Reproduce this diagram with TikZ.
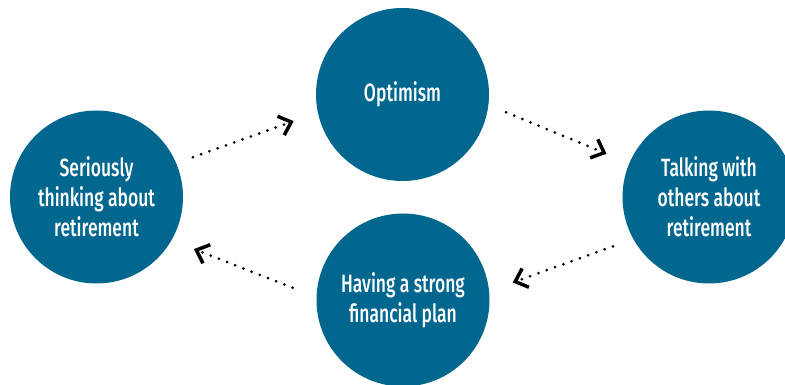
\documentclass[tikz,border=0pt]{standalone}
\usepackage{fontspec}
\setmainfont{Fira Sans}[FakeStretch=0.7,UprightFont=* Medium]
\usepackage{tikz}
\usetikzlibrary{arrows.meta,positioning,calc}
\definecolor{petrol}{HTML}{02678F}

\begin{document}
\begin{tikzpicture}[x=1pt,y=1pt,
  stage/.style={circle,fill=petrol,text=white,minimum size=173pt,inner sep=0pt,
    align=center,font=\fontsize{25}{30}\selectfont},
  flow/.style={line width=3pt,line cap=round,dash pattern=on 0pt off 8.8pt,
    -{Straight Barb[length=11pt,width=20pt,line width=3.5pt]}}]
\useasboundingbox (0,0) rectangle (785,385);
\node[stage] (serious) at (96.5,188) {Seriously\\thinking about\\retirement};
\node[stage] (opt) at (402.5,290.5) {Optimism};
\node[stage] (talk) at (709,188) {Talking with\\others about\\retirement};
\node[stage] (plan) at (403,85) {Having a strong\\financial plan};
\draw[flow,shorten <=17.5pt,shorten >=25.5pt] (serious.23) -- (opt.192);
\draw[flow,shorten <=19pt,shorten >=24.5pt] (opt.-7) -- (talk.157);
\draw[flow,shorten <=21.5pt,shorten >=25pt] (talk.209) -- (plan.6);
\draw[flow,shorten <=25.5pt,shorten >=24pt] (plan.178) -- (serious.-30);
\end{tikzpicture}
\end{document}
